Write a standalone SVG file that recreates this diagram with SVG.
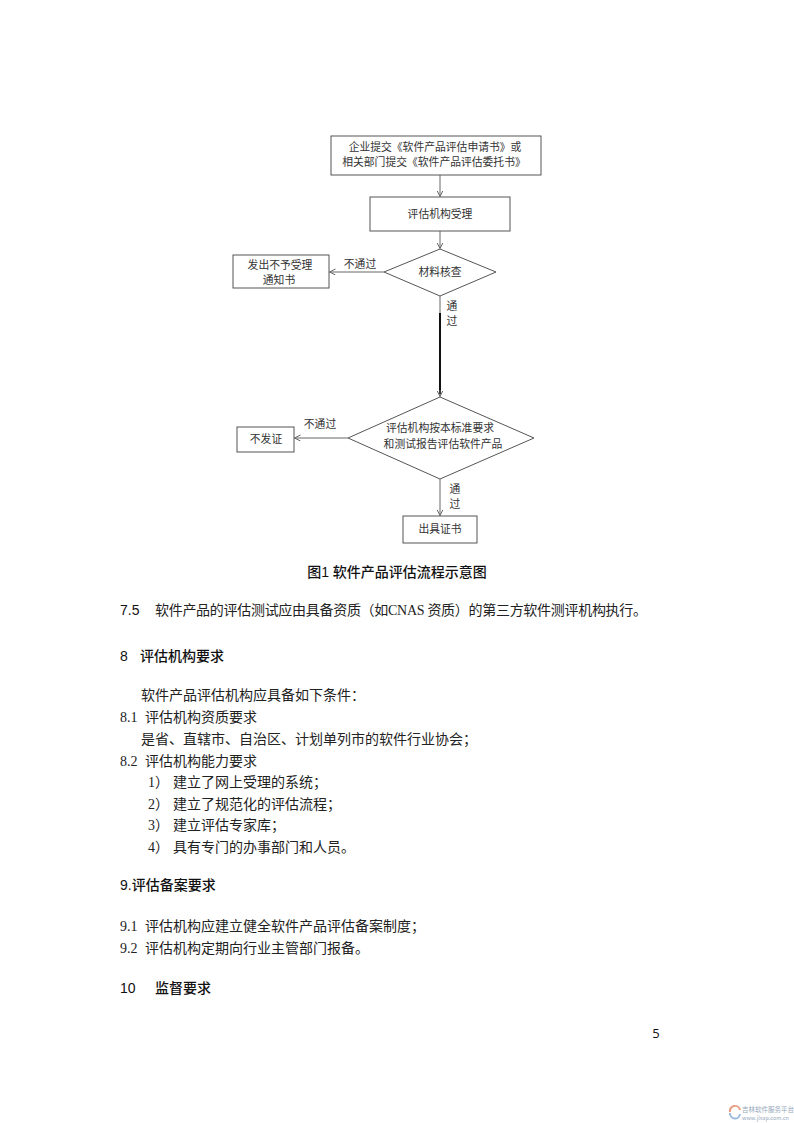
<svg xmlns="http://www.w3.org/2000/svg" width="794" height="1123" viewBox="0 0 794 1123">
<style>
.bg{fill:#ffffff}
.box{fill:#ffffff;stroke:#555555;stroke-width:1}
.dt{font-family:"Noto Sans CJK SC","Liberation Sans",sans-serif;font-size:10.8px;fill:#333333;text-anchor:middle}
.lbl{font-family:"Noto Sans CJK SC","Liberation Sans",sans-serif;font-size:10.8px;fill:#333333;text-anchor:middle}
.con{fill:none;stroke:#666666;stroke-width:1}
.thick{fill:none;stroke:#111111;stroke-width:2}
.body{font-family:"Noto Sans CJK SC",sans-serif;font-size:14px;fill:#222222}
.num{font-family:"Liberation Serif","Noto Sans CJK SC",serif;font-size:14px;fill:#222222}
.head{font-family:"Liberation Sans","Noto Sans CJK SC",sans-serif;font-size:14px;font-weight:500;fill:#111111}
.wm{font-family:"Noto Sans CJK SC",sans-serif;fill:#6a7fa0;opacity:0.7}
</style>
<defs>
<marker id="arr" markerUnits="userSpaceOnUse" markerWidth="8" markerHeight="8" refX="6" refY="3" orient="auto">
<path d="M0,0 L6,3 L0,6" fill="none" stroke="#666666" stroke-width="1"/>
</marker>
</defs>
<rect class="bg" x="0" y="0" width="794" height="1123"/>

<g id="connectors">
<line class="con" x1="440" y1="175" x2="440" y2="196.5" marker-end="url(#arr)"/>
<line class="con" x1="440" y1="231" x2="440" y2="248.5" marker-end="url(#arr)"/>
<line class="con" x1="384" y1="272" x2="329.5" y2="272" marker-end="url(#arr)"/>
<line class="con" x1="440" y1="296" x2="440" y2="313"/>
<line class="thick" x1="440" y1="313" x2="440" y2="394"/>
<line class="con" x1="440" y1="390" x2="440" y2="396.5" marker-end="url(#arr)"/>
<line class="con" x1="348" y1="438" x2="294.5" y2="438" marker-end="url(#arr)"/>
<line class="con" x1="440" y1="479" x2="440" y2="515.5" marker-end="url(#arr)"/>
<text class="lbl" x="360" y="268">不通过</text>
<text class="lbl" x="452" y="310">通</text>
<text class="lbl" x="452" y="325">过</text>
<text class="lbl" x="320" y="428">不通过</text>
<text class="lbl" x="455" y="493">通</text>
<text class="lbl" x="455" y="508">过</text>
</g>

<g id="n-submit">
<rect class="box" x="331" y="136" width="210" height="39"/>
<text class="dt" x="435" y="151">企业提交《软件产品评估申请书》或</text>
<text class="dt" x="434" y="166">相关部门提交《软件产品评估委托书》</text>
</g>
<g id="n-accept">
<rect class="box" x="370" y="197" width="140" height="34"/>
<text class="dt" x="440" y="218">评估机构受理</text>
</g>
<g id="n-check">
<polygon class="box" points="440,249 496,272 440,296 384,272"/>
<text class="dt" x="440" y="276">材料核查</text>
</g>
<g id="n-reject-notice">
<rect class="box" x="233" y="255" width="96" height="33"/>
<text class="dt" x="280" y="268.5">发出不予受理</text>
<text class="dt" x="279" y="283.5">通知书</text>
</g>
<g id="n-evaluate">
<polygon class="box" points="440,397 534,438 440,479 348,438"/>
<text class="dt" x="440" y="431.5">评估机构按本标准要求</text>
<text class="dt" x="443" y="447.5">和测试报告评估软件产品</text>
</g>
<g id="n-nocert">
<rect class="box" x="237" y="427" width="57" height="25"/>
<text class="dt" x="266" y="443">不发证</text>
</g>
<g id="n-cert">
<rect class="box" x="403" y="516" width="74" height="27"/>
<text class="dt" x="440" y="533">出具证书</text>
</g>

<g id="text">
<text class="head" x="397" y="577" text-anchor="middle">图1 软件产品评估流程示意图</text>
<text class="head" x="120" y="615" style="font-weight:normal">7.5</text>
<text class="body" x="155" y="615" textLength="492" lengthAdjust="spacing">软件产品的评估测试应由具备资质（如<tspan font-family="Liberation Serif">CNAS </tspan>资质）的第三方软件测评机构执行。</text>
<text class="head" x="120" y="661">8</text>
<text class="head" x="140" y="661">评估机构要求</text>
<text class="body" x="141" y="700">软件产品评估机构应具备如下条件：</text>
<text class="num" x="120" y="722">8.1</text>
<text class="body" x="145" y="722">评估机构资质要求</text>
<text class="body" x="141" y="744">是省、直辖市、自治区、计划单列市的软件行业协会；</text>
<text class="num" x="120" y="766">8.2</text>
<text class="body" x="145" y="766">评估机构能力要求</text>
<text class="num" x="148" y="787">1）</text>
<text class="body" x="173" y="787">建立了网上受理的系统；</text>
<text class="num" x="148" y="809">2）</text>
<text class="body" x="173" y="809">建立了规范化的评估流程；</text>
<text class="num" x="148" y="830">3）</text>
<text class="body" x="173" y="830">建立评估专家库；</text>
<text class="num" x="148" y="852">4）</text>
<text class="body" x="173" y="852">具有专门的办事部门和人员。</text>
<text class="head" x="120" y="890">9.评估备案要求</text>
<text class="num" x="120" y="931">9.1</text>
<text class="body" x="145" y="931">评估机构应建立健全软件产品评估备案制度；</text>
<text class="num" x="120" y="953">9.2</text>
<text class="body" x="145" y="953">评估机构定期向行业主管部门报备。</text>
<text class="head" x="120" y="993">10</text>
<text class="head" x="155" y="993">监督要求</text>
<text x="656" y="1038" text-anchor="middle" font-family="Open Sans, Liberation Sans, sans-serif" font-size="13" fill="#111111">5</text>
</g>

<g id="watermark">
<path d="M730,1112 A5,5 0 0 1 740,1110" fill="none" stroke="#e0704a" stroke-width="2" opacity="0.7"/>
<path d="M730,1113 A5,5 0 0 0 740,1114" fill="none" stroke="#6fa0d0" stroke-width="2" opacity="0.7"/>
<text class="wm" x="742" y="1112" font-size="6.5">吉林软件服务平台</text>
<text class="wm" x="742" y="1120" font-size="5.5" font-family="Liberation Serif, serif">www.jlsap.com.cn</text>
</g>
</svg>
